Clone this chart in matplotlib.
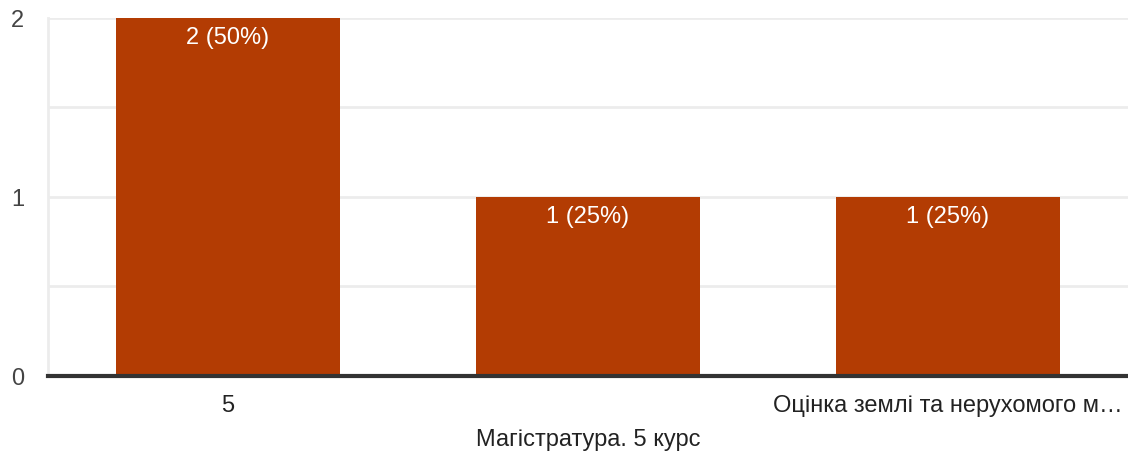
import matplotlib.pyplot as plt

plt.rcParams['font.family'] = ['Liberation Sans', 'DejaVu Sans']

categories = ['5', 'Магістратура. 5 курс', 'Оцінка землі та нерухомого м…']
counts = [2, 1, 1]
labels = ['2 (50%)', '1 (25%)', '1 (25%)']

fig = plt.figure(figsize=(11.28, 4.52), dpi=100)
ax = fig.add_axes([0.0425, 0.166, 0.9575, 0.792])

x = range(len(categories))
bars = ax.bar(x, counts, width=0.62, color='#b33c03', zorder=3)

for b, lab in zip(bars, labels):
    ax.annotate(lab, (b.get_x() + b.get_width() / 2, b.get_height()),
                xytext=(0, -19), textcoords='offset pixels',
                ha='center', va='center', color='white', fontsize=17, zorder=4)

ax.set_xlim(-0.5, 2.5)
ax.set_ylim(0, 2)
ax.set_yticks([0, 1, 2])
ax.set_yticks([0.5, 1.5], minor=True)
ax.grid(axis='y', which='both', color='#ececec', linewidth=2, zorder=0)
ax.tick_params(axis='y', which='both', length=0, labelsize=17, labelcolor='#444444', pad=17)

ax.set_xticks(list(x))
ax.set_xticklabels(categories, fontsize=17, color='#222222')
ax.tick_params(axis='x', length=0, pad=13)
for i, t in enumerate(ax.get_xticklabels()):
    if i % 2 == 1:
        t.set_y(-0.095)

for s in ['top', 'right']:
    ax.spines[s].set_visible(False)
ax.spines['left'].set_color('#ececec')
ax.spines['left'].set_linewidth(2)
ax.spines['bottom'].set_color('#333333')
ax.spines['bottom'].set_linewidth(3)
ax.spines['bottom'].set_zorder(5)

fig.savefig('out.png', dpi=100)
